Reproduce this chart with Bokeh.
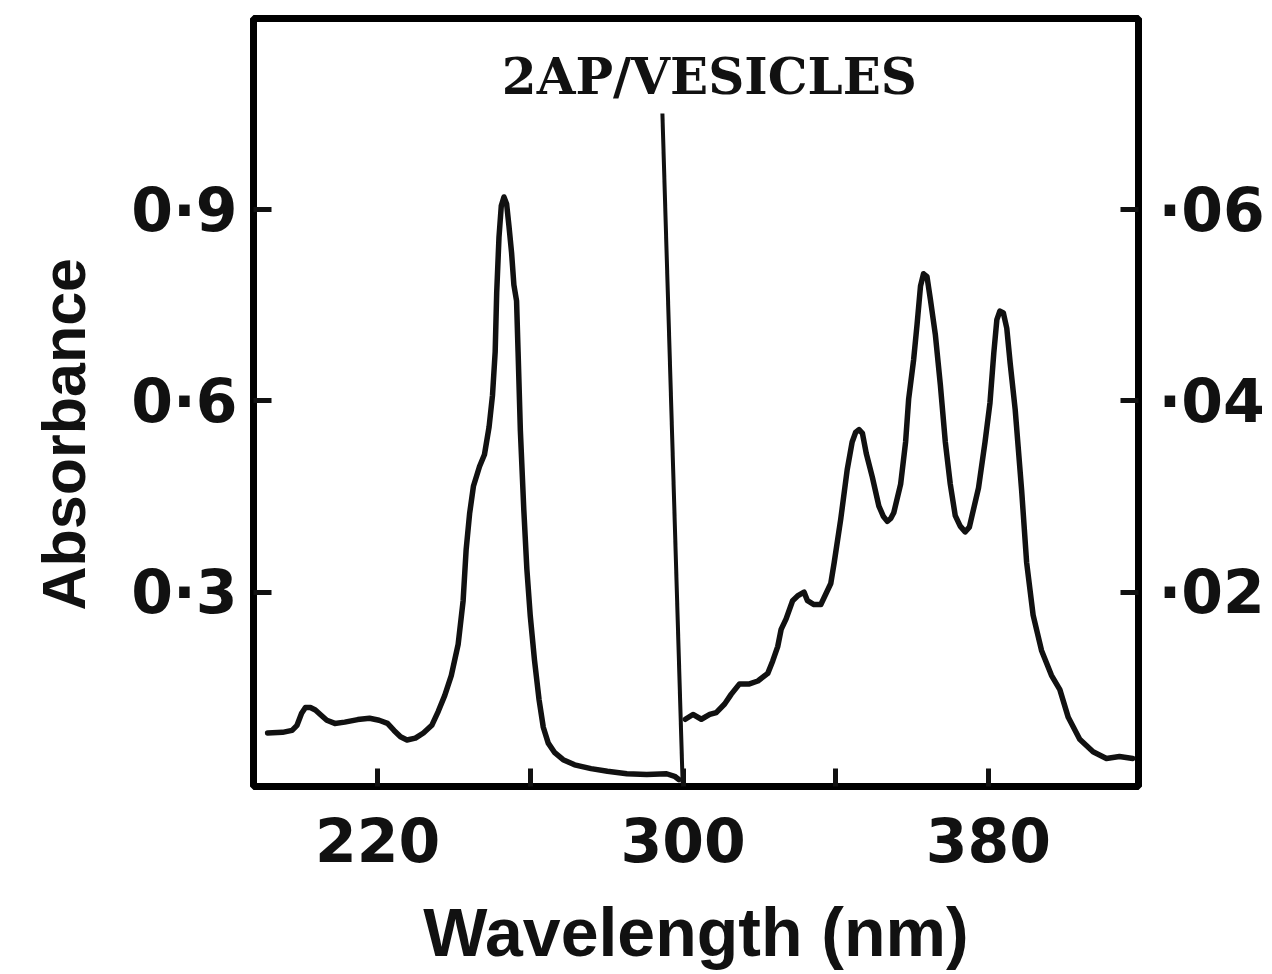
from bokeh.plotting import figure
from bokeh.models import Range1d, LinearAxis, FixedTicker, Label, Title
from bokeh.embed import file_html
from bokeh.resources import INLINE

# Far-UV band (left absorbance scale)
uv_nm = [191.2, 195.1, 197.6, 198.9, 200.1, 201.1, 202.4, 203.7, 205.0, 206.7,
         208.8, 211.4, 214.8, 217.9, 220.4, 222.6, 224.3, 226.0, 227.7, 229.9,
         232.0, 234.2, 235.9, 237.6, 239.3, 241.1, 242.4, 243.2, 244.1, 245.1,
         246.7, 248.0, 249.2, 250.1, 250.8, 251.2, 251.8, 252.4, 253.1, 253.8,
         254.4, 255.1, 255.7, 256.4, 256.8, 257.4, 258.3, 259.1, 260.0, 261.1,
         262.3, 263.4, 264.7, 266.4, 268.6, 271.6, 275.9, 280.2, 285.3, 290.5,
         295.7, 297.8, 298.9]
uv_abs = [0.079, 0.080, 0.083, 0.091, 0.110, 0.119, 0.119, 0.115, 0.108, 0.099,
          0.094, 0.096, 0.100, 0.102, 0.099, 0.094, 0.083, 0.073, 0.068, 0.071,
          0.079, 0.091, 0.113, 0.138, 0.169, 0.218, 0.286, 0.367, 0.423, 0.466,
          0.497, 0.516, 0.559, 0.609, 0.677, 0.770, 0.857, 0.906, 0.920, 0.909,
          0.875, 0.832, 0.782, 0.757, 0.677, 0.553, 0.429, 0.336, 0.262, 0.193,
          0.131, 0.088, 0.063, 0.048, 0.037, 0.029, 0.023, 0.019, 0.015, 0.014,
          0.015, 0.011, 0.006]

# Near-UV vibronic bands (right absorbance scale)
nuv_nm = [300.6, 302.6, 304.8, 307.0, 308.7, 310.9, 312.6, 314.8, 317.4, 319.6,
          322.2, 323.5, 324.8, 325.7, 327.0, 328.7, 330.0, 331.7, 332.6, 334.3,
          336.1, 337.4, 338.7, 339.6, 341.3, 343.0, 344.3, 345.2, 346.1, 347.0,
          348.0, 349.6, 351.3, 352.5, 353.5, 354.4, 355.2, 357.0, 358.3, 359.1,
          360.4, 361.3, 362.2, 363.0, 363.9, 364.8, 366.1, 367.4, 368.7, 370.0,
          371.3, 372.6, 373.9, 375.0, 375.7, 377.4, 379.1, 380.4, 381.4, 382.2,
          383.0, 383.9, 384.8, 385.7, 387.0, 388.7, 390.0, 391.7, 393.9, 396.5,
          398.7, 400.9, 403.9, 407.4, 410.9, 414.3, 417.8]
nuv_abs = [0.0067, 0.0072, 0.0067, 0.0072, 0.0074, 0.0083, 0.0093, 0.0104, 0.0104, 0.0107,
           0.0115, 0.0128, 0.0143, 0.0161, 0.0172, 0.0191, 0.0196, 0.0200, 0.0191, 0.0187,
           0.0187, 0.0198, 0.0209, 0.0231, 0.0276, 0.0328, 0.0357, 0.0367, 0.0370, 0.0366,
           0.0345, 0.0320, 0.0290, 0.0279, 0.0274, 0.0277, 0.0283, 0.0313, 0.0357, 0.0402,
           0.0443, 0.0480, 0.0520, 0.0533, 0.0530, 0.0506, 0.0469, 0.0417, 0.0357, 0.0313,
           0.0280, 0.0269, 0.0263, 0.0268, 0.0280, 0.0309, 0.0357, 0.0398, 0.0450, 0.0485,
           0.0494, 0.0492, 0.0476, 0.0439, 0.0391, 0.0306, 0.0231, 0.0176, 0.0139, 0.0113,
           0.0098, 0.0069, 0.0046, 0.0033, 0.0026, 0.0028, 0.0026]

# Divider between the two panels
divider_nm = [294.6, 299.9]
divider_abs = [1.051, 0.0]

x_ticks = [220, 260, 300, 340, 380]
x_tick_labels = ["220", "", "300", "", "380"]
left_ticks = [0.3, 0.6, 0.9]
left_tick_labels = ["0·3", "0·6", "0·9"]
right_ticks = [0.02, 0.04, 0.06]
right_tick_labels = ["·02", "·04", "·06"]
scale_ratio = 15.0   # left scale units per right scale unit

title_text = "2AP/VESICLES"
x_title = "Wavelength (nm)"
y_title = "Absorbance"

y_lo, y_hi = -0.005, 1.2

p = figure(width=1272, height=974, output_backend="svg", toolbar_location=None,
           x_range=Range1d(187.5, 419.3), y_range=Range1d(y_lo, y_hi),
           min_border_left=253, min_border_right=134, min_border_top=18,
           min_border_bottom=188)
p.extra_y_ranges = {"right": Range1d(y_lo / scale_ratio, y_hi / scale_ratio)}

p.background_fill_color = "white"
p.border_fill_color = "white"
p.outline_line_color = "black"
p.outline_line_width = 7
p.xgrid.visible = False
p.ygrid.visible = False

ink = "#111111"

p.line(uv_nm, uv_abs, line_color=ink, line_width=5.5, line_join="round", line_cap="round")
p.line(nuv_nm, nuv_abs, y_range_name="right", line_color=ink, line_width=5.5,
       line_join="round", line_cap="round")
p.line(divider_nm, divider_abs, line_color=ink, line_width=4)

tick_font = "DejaVu Sans"


def style_axis(ax, ticks, labels, standoff):
    ax.ticker = FixedTicker(ticks=ticks)
    ax.major_label_overrides = dict(zip(ticks, labels))
    ax.axis_line_color = None
    ax.major_tick_in = 18
    ax.major_tick_out = 0
    ax.major_tick_line_width = 5
    ax.major_tick_line_color = ink
    ax.minor_tick_line_color = None
    ax.major_label_text_font = tick_font
    ax.major_label_text_font_style = "bold"
    ax.major_label_text_font_size = "60px"
    ax.major_label_text_color = ink
    ax.major_label_standoff = standoff


style_axis(p.xaxis[0], x_ticks, x_tick_labels, 30)
style_axis(p.yaxis[0], left_ticks, left_tick_labels, 16)

right_axis = LinearAxis(y_range_name="right")
style_axis(right_axis, right_ticks, right_tick_labels, 20)
p.add_layout(right_axis, "right")

p.xaxis[0].axis_label = x_title
p.xaxis[0].axis_label_text_font = "Liberation Sans"
p.xaxis[0].axis_label_text_font_style = "bold"
p.xaxis[0].axis_label_text_font_size = "68px"
p.xaxis[0].axis_label_text_color = ink
p.xaxis[0].axis_label_standoff = 29

p.add_layout(Title(text=y_title, align="left", offset=176, standoff=58,
                   vertical_align="top",
                   text_font="Liberation Sans", text_font_style="bold",
                   text_font_size="61px", text_color=ink), "left")

p.add_layout(Label(x=306.9, y=1.109, text=title_text, text_align="center",
                   text_baseline="alphabetic", text_font="DejaVu Serif",
                   text_font_style="bold", text_font_size="50px", text_color=ink))

open("out.html", "w").write(file_html(p, INLINE))
